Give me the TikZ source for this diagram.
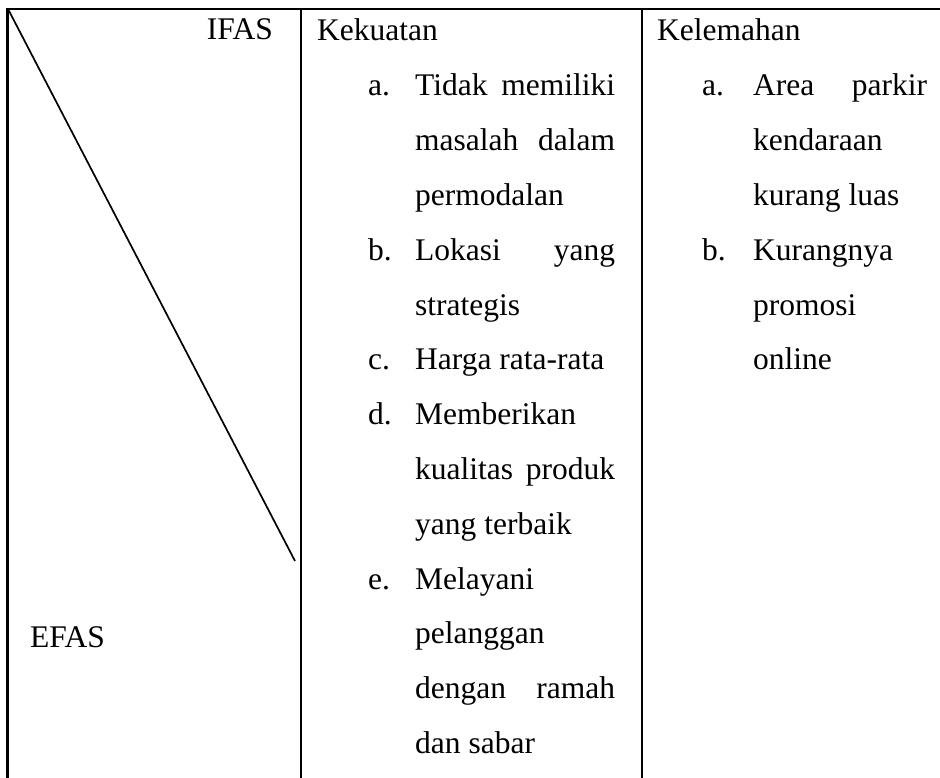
\documentclass[tikz,border=0pt]{standalone}
\usepackage{fontspec}
\setmainfont{Liberation Serif}
\tikzset{
  grid line/.style={line width=2.4pt},
  cell text/.style={anchor=base west, inner sep=0pt, font=\fontsize{31.5}{40}\selectfont},
}
\newcommand{\fillline}[2]{\makebox[#1][s]{#2}}
\begin{document}
\begin{tikzpicture}[x=1pt,y=-1pt]
        \useasboundingbox (0,0) rectangle (940,778);
        % garis tabel
        \draw[grid line] (7.5,778) -- (7.5,9) -- (940,9);
        \draw[grid line] (301,9) -- (301,778);
        \draw[grid line] (642,9) -- (642,778);
        \draw[line width=1.7pt] (8,9) -- (295,561);
        % sel pojok
        \node[cell text, anchor=base east] (ifas) at (273,40) {IFAS};
        \node[cell text] (efas) at (30,647) {EFAS};
        % kolom kekuatan
        \node[cell text] (kuat) at (317,41) {Kekuatan};
        \foreach \n/\lbl in {1/a., 4/b., 6/c., 7/d., 10/e.}
            \node[cell text] (kl\n) at (368,{41+54.8*\n}) {\lbl};
        \foreach \n/\txt in {1/{\fillline{200pt}{Tidak memiliki}}, 2/{\fillline{200pt}{masalah dalam}},
                3/permodalan, 4/{\fillline{200pt}{Lokasi yang}}, 5/strategis, 6/Harga rata-rata,
                7/Memberikan, 8/{\fillline{200pt}{kualitas produk}}, 9/yang terbaik, 10/Melayani,
                11/pelanggan, 12/{\fillline{200pt}{dengan ramah}}, 13/dan sabar}
            \node[cell text] (kt\n) at (415,{41+54.8*\n}) {\txt};
        % kolom kelemahan
        \node[cell text] (lemah) at (657,41) {Kelemahan};
        \foreach \n/\lbl in {1/a., 4/b.}
            \node[cell text] (ll\n) at (702,{41+54.8*\n}) {\lbl};
        \foreach \n/\txt in {1/{\fillline{174pt}{Area parkir}}, 2/kendaraan, 3/kurang luas,
                4/Kurangnya, 5/promosi, 6/online}
            \node[cell text] (lt\n) at (753,{41+54.8*\n}) {\txt};
\end{tikzpicture}
\end{document}
